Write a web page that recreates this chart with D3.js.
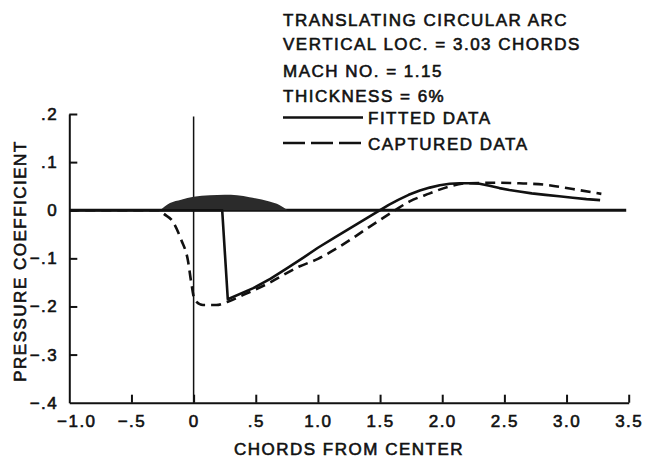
<!DOCTYPE html>
<html>
<head>
<meta charset="utf-8" />
<script src="https://d3js.org/d3.v7.min.js"></script>
<style>
  body { margin: 0; background: #fff; }
  text { font-family: "Liberation Sans", Arial, sans-serif; fill: #111; stroke: #111; stroke-width: 0.6px; letter-spacing: 1.5px; }
  .axis path, .axis line { stroke: #111; stroke-width: 2px; }
</style>
</head>
<body>
<div id="chart"></div>
<script>
// chart values
const xTicks = [-1.0, -0.5, 0, 0.5, 1.0, 1.5, 2.0, 2.5, 3.0, 3.5];
const xTickLabels = ["\u22121.0", "\u2212.5", "0", ".5", "1.0", "1.5", "2.0", "2.5", "3.0", "3.5"];
const yTicks = [0.2, 0.1, 0, -0.1, -0.2, -0.3, -0.4];
const yTickLabels = [".2", ".1", "0", "\u2212.1", "\u2212.2", "\u2212.3", "\u2212.4"];

const fittedX = [-1.0, 0.23, 0.275, 0.48, 0.62, 0.75, 0.88, 1.0, 1.14, 1.28, 1.39, 1.5, 1.57, 1.65, 1.73, 1.82, 1.9, 1.98, 2.06, 2.14, 2.22, 2.3, 2.38, 2.46, 2.54, 2.62, 2.72, 2.83, 2.94, 3.05, 3.16, 3.27];
const fittedY = [0, 0, -0.185, -0.162, -0.142, -0.121, -0.099, -0.078, -0.056, -0.034, -0.017, 0.0, 0.011, 0.022, 0.032, 0.041, 0.047, 0.052, 0.055, 0.056, 0.056, 0.055, 0.051, 0.046, 0.042, 0.039, 0.035, 0.032, 0.029, 0.026, 0.023, 0.021];

const capturedX = [-1.0, -0.27, -0.246, -0.166, -0.099, -0.046, -0.018, 0.008, 0.075, 0.182, 0.275, 0.4, 0.6, 0.85, 1.0, 1.14, 1.28, 1.4, 1.5, 1.62, 1.735, 1.9, 2.05, 2.2, 2.45, 2.62, 2.83, 3.05, 3.28];
const capturedY = [0, 0, -0.006, -0.024, -0.062, -0.104, -0.152, -0.186, -0.197, -0.197, -0.19, -0.176, -0.152, -0.117, -0.101, -0.081, -0.058, -0.037, -0.02, 0.0, 0.018, 0.035, 0.049, 0.056, 0.057, 0.056, 0.053, 0.044, 0.034];

// airfoil (circular arc) outline above the zero line
const airfoilX = [-0.27, -0.19, -0.1, 0.0, 0.13, 0.25, 0.35, 0.45, 0.61, 0.69, 0.757];
const airfoilY = [0, 0.015, 0.022, 0.028, 0.031, 0.032, 0.031, 0.027, 0.018, 0.011, 0];

const notes = ["TRANSLATING CIRCULAR ARC", "VERTICAL LOC. = 3.03 CHORDS", "MACH NO. = 1.15", "THICKNESS = 6%"];
const legendNames = ["FITTED DATA", "CAPTURED DATA"];

const width = 645, height = 459;
const svg = d3.select("#chart").append("svg").attr("width", width).attr("height", height);

const x = d3.scaleLinear().domain([-1, 3.5]).range([69.3, 628.7]);
const y = d3.scaleLinear().domain([-0.4, 0.2]).range([402.7, 114]);

// axes
const xAxis = d3.axisBottom(x).tickValues(xTicks).tickSizeInner(-8).tickSizeOuter(0).tickPadding(12)
    .tickFormat((d, i) => xTickLabels[i]);
const gx = svg.append("g").attr("class", "axis").attr("transform", `translate(0,${y(-0.4)})`).call(xAxis);
gx.selectAll("text").style("font-size", "17px").attr("dy", "0.71em").attr("fill", "#111");
gx.selectAll(".tick").filter(d => d === -1).select("text").attr("dx", 7);

const yAxis = d3.axisLeft(y).tickValues(yTicks).tickSizeInner(-8).tickSizeOuter(0).tickPadding(11)
    .tickFormat((d, i) => yTickLabels[i]);
const gy = svg.append("g").attr("class", "axis").attr("transform", `translate(${x(-1)},0)`).call(yAxis);
gy.selectAll("text").style("font-size", "17px").attr("fill", "#111");
gy.selectAll(".tick").filter(d => d === -0.4).select("line").remove();
gx.selectAll(".tick").filter(d => d === -1).select("line").remove();

// zero line and the x = 0 line
svg.append("line").attr("x1", x(-1)).attr("x2", x(3.48)).attr("y1", y(0)).attr("y2", y(0))
  .attr("stroke", "#111").attr("stroke-width", 3);
svg.append("line").attr("x1", x(0)).attr("x2", x(0)).attr("y1", y(0.195)).attr("y2", y(-0.4))
  .attr("stroke", "#111").attr("stroke-width", 1.5);

// airfoil
const airfoil = airfoilX.map((d, i) => [d, airfoilY[i]]);
svg.append("path").datum(airfoil)
  .attr("d", d3.area().x(d => x(d[0])).y0(y(0)).y1(d => y(d[1])).curve(d3.curveMonotoneX))
  .attr("fill", "#2b2b2b");

// curves
const fitted = fittedX.map((d, i) => [d, fittedY[i]]);
const captured = capturedX.map((d, i) => [d, capturedY[i]]);
const line = d3.line().x(d => x(d[0])).y(d => y(d[1]));

svg.append("path").datum(captured)
  .attr("d", line.curve(d3.curveMonotoneX))
  .attr("fill", "none").attr("stroke", "#111").attr("stroke-width", 2.6).attr("stroke-dasharray", "10,6");
svg.append("path").datum(fitted)
  .attr("d", line.curve(d3.curveLinear))
  .attr("fill", "none").attr("stroke", "#111").attr("stroke-width", 2.6).attr("stroke-linejoin", "round");

// axis titles
svg.append("text").attr("x", 349).attr("y", 455).attr("text-anchor", "middle")
  .style("font-size", "17px").text("CHORDS FROM CENTER");
svg.append("text").attr("transform", `translate(26,261) rotate(-90)`).attr("text-anchor", "middle")
  .style("font-size", "17px").text("PRESSURE COEFFICIENT");

// notes and legend
const noteBase = [26, 50, 77, 102];
notes.forEach((t, i) => {
  svg.append("text").attr("x", 283).attr("y", noteBase[i]).style("font-size", "17px").text(t);
});
const legY = [117.5, 143];
const legBase = [124, 150];
legendNames.forEach((t, i) => {
  svg.append("line").attr("x1", 283).attr("x2", 363).attr("y1", legY[i]).attr("y2", legY[i])
    .attr("stroke", "#111").attr("stroke-width", 2.6)
    .attr("stroke-dasharray", i === 1 ? "22,6" : null);
  svg.append("text").attr("x", 368).attr("y", legBase[i]).style("font-size", "17px").text(t);
});
</script>
</body>
</html>
